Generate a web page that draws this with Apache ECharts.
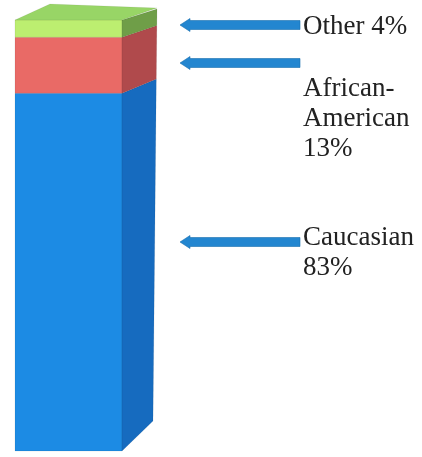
<!DOCTYPE html>
<html>
<head>
<meta charset="utf-8">
<script src="https://cdn.jsdelivr.net/npm/echarts@6/dist/echarts.min.js"></script>
<style>html,body{margin:0;padding:0;background:#fff}#c{width:422px;height:457px}</style>
</head>
<body>
<div id="c"></div>
<script>
// ---- data ----
const categories = ['Race'];
const segmentNames = ['Caucasian', 'African-American', 'Other'];
const segmentValues = [83, 13, 4];
const labelLines = [['Other 4%'], ['African-', 'American', '13%'], ['Caucasian', '83%']];

// ---- styles ----
const frontColors = ['#1c8be4', '#e96a66', '#bcee70'];
const sideColors = ['#166bbf', '#b04a4c', '#6f9e48'];
const topColor = '#98d566';

const chart = echarts.init(document.getElementById('c'), null, {renderer: 'canvas'});

const bases = [];
let acc = 0;
segmentValues.forEach(v => { bases.push(acc); acc += v; });

function makeRender(idx) {
  return function (params, api) {
    const base = bases[idx];
    const val = api.value(1);
    const cat = api.value(0);
    const w = api.size([1, 0])[0];
    const pB = api.coord([cat, base]);
    const pT = api.coord([cat, base + val]);
    const top = api.coord([cat, 100])[1];
    const bottom = api.coord([cat, 0])[1];
    const cx = pB[0];
    const xL = cx - w / 2, xR = cx + w / 2;
    const yB = pB[1], yT = pT[1];
    const f = y => (y - top) / (bottom - top);
    const dx = y => 35 - 4 * f(y);
    const dy = y => -11 - 19 * f(y);
    const children = [];
    children.push({
      type: 'rect',
      shape: {x: xL, y: yT, width: w, height: yB - yT},
      style: {fill: frontColors[idx], stroke: 'rgba(0,0,0,0.12)', lineWidth: 0.6}
    });
    children.push({
      type: 'polygon',
      shape: {points: [[xR, yT], [xR + dx(yT), yT + dy(yT)], [xR + dx(yB), yB + dy(yB)], [xR, yB]]},
      style: {fill: sideColors[idx], stroke: 'rgba(0,0,0,0.12)', lineWidth: 0.6}
    });
    if (idx === segmentValues.length - 1) {
      children.push({
        type: 'polygon',
        shape: {points: [[xL, yT], [xR, yT], [xR + dx(yT), yT + dy(yT) - 1], [xL + 35, yT - 16]]},
        style: {fill: topColor, stroke: 'rgba(0,0,0,0.1)', lineWidth: 0.6}
      });
    }
    return {type: 'group', children: children};
  };
}

const series = segmentNames.map((name, i) => ({
  type: 'custom',
  name: name,
  renderItem: makeRender(i),
  data: [[0, segmentValues[i]]],
  z: 2 + i
}));

// annotation arrows + labels
const arrowY = [25, 63, 242];
const labelFirstY = [27, 89, 238];
const lineGap = 30;
const graphics = [];
arrowY.forEach(c => {
  graphics.push({
    type: 'polygon',
    shape: {points: [[180, c], [190, c - 6.5], [190, c - 4.5], [300, c - 4.5], [300, c + 4.5], [190, c + 4.5], [190, c + 6.5]]},
    style: {fill: '#2386d0', stroke: '#1a6fae', lineWidth: 0.6}
  });
});
labelLines.forEach((lines, i) => {
  lines.forEach((t, j) => {
    graphics.push({
      type: 'text',
      x: 303,
      y: labelFirstY[i] + j * lineGap,
      style: {
        text: t,
        fill: '#222',
        font: '27px "Liberation Serif", "Times New Roman", "DejaVu Serif", serif',
        verticalAlign: 'middle',
        align: 'left'
      }
    });
  });
});

chart.setOption({
  animation: false,
  textStyle: {fontFamily: '"Liberation Serif", serif'},
  grid: {left: 15, right: 300, top: 20, bottom: 6},
  xAxis: {type: 'category', data: categories, show: false},
  yAxis: {type: 'value', min: 0, max: 100, show: false},
  series: series,
  graphic: graphics
});
</script>
</body>
</html>
